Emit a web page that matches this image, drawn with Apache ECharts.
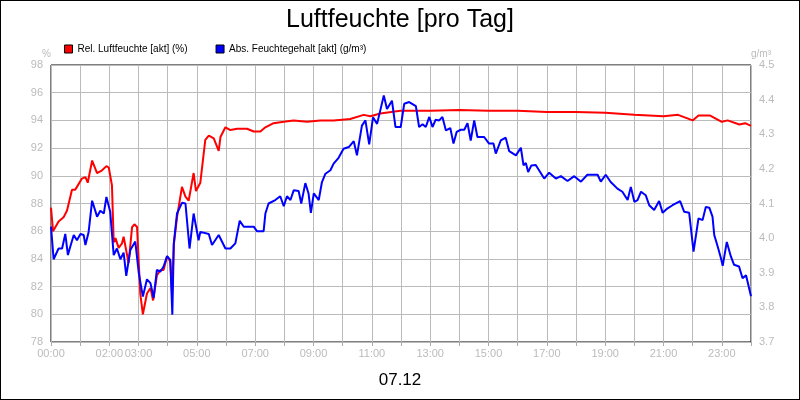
<!DOCTYPE html>
<html><head><meta charset="utf-8">
<script src="https://cdn.jsdelivr.net/npm/echarts@6/dist/echarts.min.js"></script>
<style>html,body{margin:0;padding:0;background:#fff}#c{width:798px;height:398px;border:1px solid #000}</style>
</head><body><div id="c"></div>
<script>
const title = "Luftfeuchte [pro Tag]";
const dateLabel = "07.12";
const relName = "Rel. Luftfeuchte [akt] (%)";
const absName = "Abs. Feuchtegehalt [akt] (g/m³)";
const shownHourLabels = [0,2,3,5,7,9,11,13,15,17,19,21,23];
const relHours = [0,0.07,0.26,0.43,0.55,0.72,0.83,0.89,1.06,1.18,1.26,1.41,1.58,1.75,1.90,1.98,2.09,2.15,2.21,2.32,2.43,2.49,2.66,2.78,2.86,2.95,3.06,3.15,3.29,3.41,3.50,3.63,3.75,3.86,3.98,4.09,4.15,4.21,4.32,4.49,4.61,4.72,4.89,4.97,5.12,5.29,5.41,5.58,5.75,5.81,5.98,6.15,6.38,6.72,6.95,7.18,7.35,7.63,7.98,8.32,8.78,9.23,9.69,10.26,10.72,10.95,11.29,11.98,12.5,13,14,15,16,17,18,19,20,21,21.5,22,22.2,22.6,23,23.2,23.6,23.8,24];
const relValues = [87.7,86.0,86.7,87.0,87.5,89.0,89.0,89.2,89.8,89.9,89.5,91.1,90.2,90.4,90.7,90.6,89.3,85.2,85.5,84.8,85.1,85.6,83.7,86.3,86.5,86.3,81.5,80.0,81.5,81.9,81.0,82.8,83.2,83.2,84.2,83.8,81.5,85.0,87.0,89.2,88.5,88.2,90.2,88.9,89.5,92.6,92.9,92.7,91.8,92.8,93.5,93.3,93.4,93.4,93.2,93.2,93.5,93.8,93.9,94.0,93.9,94.0,94.0,94.1,94.4,94.3,94.5,94.7,94.7,94.7,94.75,94.7,94.7,94.6,94.6,94.55,94.4,94.3,94.4,94.0,94.35,94.35,93.9,94.0,93.7,93.8,93.6];
const absHours = [0,0.09,0.15,0.26,0.38,0.49,0.58,0.66,0.78,0.89,1.01,1.12,1.18,1.29,1.41,1.58,1.69,1.81,1.90,2.03,2.15,2.26,2.38,2.49,2.58,2.72,2.89,3.01,3.15,3.29,3.41,3.52,3.63,3.75,3.86,3.98,4.09,4.16,4.21,4.32,4.49,4.61,4.75,4.89,5.06,5.12,5.41,5.52,5.75,5.98,6.15,6.32,6.47,6.61,6.95,7.06,7.29,7.35,7.46,7.69,7.86,7.98,8.09,8.21,8.32,8.49,8.58,8.72,8.83,8.91,9.01,9.18,9.29,9.41,9.58,9.69,9.86,10.03,10.21,10.38,10.49,10.66,10.78,10.91,11.04,11.18,11.29,11.41,11.52,11.69,11.81,11.99,12.11,12.28,12.51,12.62,12.74,12.85,12.97,13.08,13.19,13.31,13.42,13.54,13.69,13.80,13.91,14.05,14.17,14.28,14.39,14.51,14.62,14.85,15.02,15.17,15.25,15.42,15.59,15.71,15.94,16.11,16.20,16.28,16.36,16.47,16.62,16.77,16.91,17.08,17.31,17.48,17.71,17.94,18.17,18.39,18.74,18.85,19.02,19.19,19.42,19.59,19.77,19.88,20.0,20.11,20.23,20.39,20.51,20.68,20.85,20.97,21.14,21.31,21.57,21.71,21.88,22.03,22.2,22.34,22.45,22.57,22.68,22.74,22.86,22.97,23.03,23.17,23.31,23.42,23.59,23.71,23.83,24];
const absValues = [4.033,3.939,3.939,3.970,3.970,4.012,3.951,3.975,4.009,3.994,4.012,4.009,3.980,4.018,4.108,4.062,4.079,4.071,4.119,4.076,3.951,3.970,3.939,3.958,3.891,3.966,3.990,3.899,3.831,3.881,3.870,3.827,3.908,3.903,3.918,3.948,3.937,3.779,3.985,4.071,4.102,4.100,3.970,4.071,3.994,4.018,4.012,3.980,4.009,3.970,3.970,3.985,4.050,4.033,4.033,4.020,4.020,4.071,4.100,4.110,4.121,4.092,4.121,4.110,4.138,4.136,4.100,4.159,4.129,4.073,4.129,4.110,4.162,4.186,4.196,4.215,4.232,4.258,4.263,4.280,4.239,4.325,4.340,4.271,4.349,4.330,4.369,4.412,4.373,4.397,4.321,4.321,4.388,4.393,4.381,4.321,4.329,4.321,4.350,4.321,4.342,4.340,4.350,4.311,4.318,4.273,4.307,4.313,4.313,4.332,4.282,4.340,4.292,4.292,4.273,4.273,4.244,4.282,4.290,4.251,4.239,4.261,4.210,4.217,4.191,4.210,4.211,4.191,4.172,4.189,4.172,4.179,4.165,4.179,4.163,4.183,4.183,4.163,4.183,4.162,4.143,4.134,4.110,4.148,4.105,4.110,4.134,4.124,4.095,4.081,4.107,4.073,4.086,4.095,4.107,4.076,4.073,3.961,4.057,4.052,4.090,4.088,4.062,4.009,3.975,3.942,3.920,3.989,3.947,3.923,3.918,3.884,3.893,3.832];

const font = '"Liberation Sans", Arial, sans-serif';
const pair = (xs, ys) => xs.map((x, i) => [x, ys[i]]);
const chart = echarts.init(document.getElementById('c'));
chart.setOption({
  animation: false,
  textStyle: {fontFamily: font},
  title: [
    {text: title, left: 'center', top: 2, textStyle: {fontSize: 25, fontWeight: 'normal', color: '#000', fontFamily: font}},
    {text: dateLabel, left: 'center', top: 366, textStyle: {fontSize: 17, fontWeight: 'normal', color: '#000', fontFamily: font}}
  ],
  legend: {left: 58, top: 38, itemWidth: 8, itemHeight: 8, itemGap: 28, icon: 'rect',
    textStyle: {fontSize: 10, color: '#000', fontFamily: font},
    data: [{name: relName, itemStyle: {borderColor: '#000', borderWidth: 1}}, {name: absName, itemStyle: {borderColor: '#000', borderWidth: 1}}]},
  grid: {left: 50, right: 48, top: 64, bottom: 57, show: true, borderColor: '#000', borderWidth: 1},
  xAxis: {type: 'value', min: 0, max: 24, interval: 1,
    axisLine: {show: false}, axisTick: {show: true, length: 4, lineStyle: {color: '#aaa'}},
    splitLine: {lineStyle: {color: '#bbb'}},
    axisLabel: {color: '#bbb', fontSize: 11, margin: 6,
      formatter: v => shownHourLabels.includes(v) ? String(v).padStart(2, '0') + ':00' : ''}},
  yAxis: [
    {type: 'value', min: 78, max: 98, interval: 2, name: '%', nameGap: 6,
      nameTextStyle: {color: '#bbb', fontSize: 10, align: 'right'},
      axisLine: {show: false}, axisTick: {show: false},
      splitLine: {lineStyle: {color: '#bbb'}}, axisLabel: {color: '#bbb', fontSize: 11, margin: 8}},
    {type: 'value', min: 3.7, max: 4.5, interval: 0.1, name: 'g/m³', nameGap: 6,
      nameTextStyle: {color: '#bbb', fontSize: 10, align: 'left'},
      axisLine: {show: false}, axisTick: {show: false}, splitLine: {show: false},
      axisLabel: {color: '#bbb', fontSize: 11, margin: 8, formatter: v => v.toFixed(1)}}
  ],
  series: [
    {name: relName, type: 'line', yAxisIndex: 0, data: pair(relHours, relValues), showSymbol: false,
      lineStyle: {color: '#ff0000', width: 2}, itemStyle: {color: '#ff0000'}},
    {name: absName, type: 'line', yAxisIndex: 1, data: pair(absHours, absValues), showSymbol: false,
      lineStyle: {color: '#0000ff', width: 2}, itemStyle: {color: '#0000ff'}}
  ]
});
</script></body></html>
